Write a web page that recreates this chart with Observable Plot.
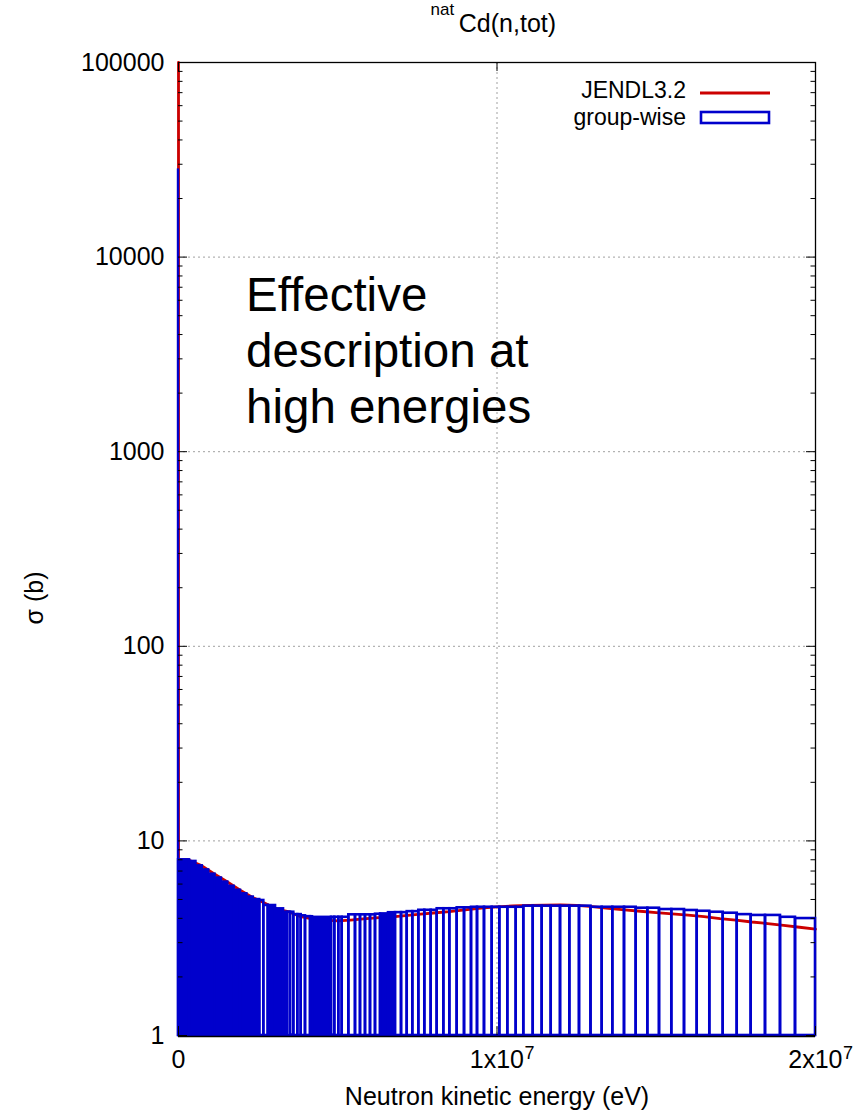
<!DOCTYPE html>
<html><head><meta charset="utf-8">
<script src="https://cdn.jsdelivr.net/npm/d3@7"></script>
<script src="https://cdn.jsdelivr.net/npm/@observablehq/plot@0.6"></script>
<style>
html,body{margin:0;padding:0;background:#fff;}
#wrap{position:relative;width:863px;height:1111px;overflow:hidden;}
#wrap svg{position:absolute;left:0;top:0;}
</style></head><body><div id="wrap"></div>
<script>
// ---------- data (energies in MeV, cross sections in barns) ----------
// group-wise boxes that are resolvable (null = part of a densely packed band)
const groupEdgesMeV = [2.553, 2.678, 2.816, 3.422, 3.516, 3.620, 3.746, 3.852, 3.987, 4.144,
  4.804, 4.907, 5.033, 5.140, 5.347, 5.557, 5.714, 5.871, 6.028, 6.185, 6.342,
  6.813, 7.002, 7.181, 7.356, 7.545, 7.733, 7.934, 8.122, 8.330, 8.518, 8.750, 8.980,
  9.199, 9.388, 9.607, 9.849, 10.088, 10.339, 10.603, 10.841, 11.137, 11.419, 11.702,
  11.994, 12.286, 12.590, 12.951, 13.303, 13.636, 14.003, 14.370, 14.735, 15.102,
  15.488, 15.887, 16.286, 16.681, 17.102, 17.542, 17.981, 18.430, 18.901, 19.372, 20.0];
const groupSigma = [4.94, 4.66, null, 4.30, 4.30, 4.18, 4.18, 4.12, 4.08, null,
  4.05, 4.05, 4.05, 4.05, 4.17, 4.17, 4.17, 4.17, 4.17, 4.20, null,
  4.28, 4.28, 4.33, 4.33, 4.40, 4.40, 4.40, 4.48, 4.48, 4.48, 4.53, 4.53,
  4.56, 4.56, 4.56, 4.56, 4.56, 4.56, 4.56, 4.62, 4.62, 4.62, 4.62, 4.62, 4.62, 4.62,
  4.56, 4.56, 4.56, 4.56, 4.51, 4.51, 4.44, 4.44, 4.39, 4.35, 4.30, 4.25, 4.18,
  4.14, 4.14, 4.05, 3.99];
// densely packed groups (drawn as solid bands)
const fineLoMeV = [0, 0.0001, 0.35, 0.55, 0.75, 0.95, 1.15, 1.35, 1.55, 1.75, 1.95, 2.15, 2.35,
  2.816, 3.05, 3.30, 4.144, 4.21, 6.342, 6.59];
const fineHiMeV = [0.0001, 0.35, 0.55, 0.75, 0.95, 1.15, 1.35, 1.55, 1.75, 1.95, 2.15, 2.35, 2.553,
  3.05, 3.30, 3.422, 4.21, 4.804, 6.59, 6.813];
const fineSigma = [28000, 8.0, 7.85, 7.45, 7.1, 6.75, 6.45, 6.15, 5.85, 5.58, 5.35, 5.15, 5.0,
  4.66, 4.48, 4.30, 4.08, 4.05, 4.22, 4.28];
// JENDL3.2 pointwise curve
const jendlMeV = [0, 0.0001, 0.3, 0.7, 1.1, 1.5, 1.95, 2.3, 2.7, 3.1, 3.45, 3.8, 4.2, 4.6, 5.0,
  5.4, 5.8, 6.3, 6.8, 7.2, 7.6, 8.0, 8.5, 9.0, 9.5, 10, 10.5, 11, 11.5, 12, 12.5, 13, 13.5,
  14, 14.5, 15, 15.5, 16, 16.5, 17, 17.5, 18, 18.5, 19, 19.5, 20];
const jendlSigma = [100000, 8.0, 8.0, 7.5, 6.8, 6.2, 5.56, 5.15, 4.8, 4.45, 4.33, 4.1, 3.98, 3.92, 3.88,
  3.92, 3.97, 4.03, 4.08, 4.14, 4.2, 4.26, 4.33, 4.42, 4.52, 4.58, 4.63, 4.66, 4.68, 4.69, 4.66, 4.6, 4.5,
  4.42, 4.35, 4.28, 4.22, 4.16, 4.08, 3.99, 3.92, 3.83, 3.76, 3.68, 3.6, 3.52];
const baseSigma = 1;
// ticks
const yTickValues = [1, 10, 100, 1000, 10000, 100000];
const yTickLabels = ["1", "10", "100", "1000", "10000", "100000"];
const xTickValues = [0, 1e7, 2e7];
const xTickBase = ["0", "1x10", "2x10"];
const xTickExp = ["", "7", "7"];
const gridY = [10, 100, 1000, 10000];
const gridX = [1e7];

// ---------- build ----------
const MeV = 1e6;
const FONT = "'Liberation Sans', Arial, Helvetica, sans-serif";
const BLUE = "#0000cc", RED = "#cc0000";
const W = 863, H = 1111, mL = 178, mR = 48, mT = 62, mB = 76;
const innerW = W - mL - mR, innerH = H - mT - mB;
const MAJ = 9, MIN = 4.5;

const groups = groupSigma.map((s, i) => ({x1: groupEdgesMeV[i] * MeV, x2: groupEdgesMeV[i + 1] * MeV, y1: baseSigma, y2: s}))
  .filter(d => d.y2 != null);
const fine = fineSigma.map((s, i) => ({x1: fineLoMeV[i] * MeV, x2: fineHiMeV[i] * MeV, y1: baseSigma, y2: s}));
const jendl = jendlMeV.map((e, i) => ({x: e * MeV, y: jendlSigma[i]}));
const yMinor = yTickValues.slice(0, -1).flatMap(d => [2, 3, 4, 5, 6, 7, 8, 9].map(k => k * d));
const xTicks = xTickValues.map((v, i) => ({v, base: xTickBase[i], exp: xTickExp[i]}));

const chart = Plot.plot({
  width: W, height: H,
  marginLeft: mL, marginRight: mR, marginTop: mT, marginBottom: mB,
  style: {fontFamily: FONT, fontSize: "25px", background: "transparent", color: "#000", overflow: "visible"},
  x: {domain: [0, 2e7], axis: null},
  y: {type: "log", domain: [1, 1e5], axis: null},
  marks: [
    Plot.ruleY(gridY, {y: d => d, stroke: "#a0a0a0", strokeWidth: 1, strokeDasharray: "2,3"}),
    Plot.ruleX(gridX, {x: d => d, stroke: "#a0a0a0", strokeWidth: 1, strokeDasharray: "2,3"}),
    Plot.frame({stroke: "#000", strokeWidth: 1.3}),
    Plot.line(jendl, {x: "x", y: "y", stroke: RED, strokeWidth: 2.8}),
    Plot.rect(fine, {x1: "x1", x2: "x2", y1: "y1", y2: "y2", fill: BLUE, stroke: BLUE, strokeWidth: 2.4}),
    Plot.rect(groups, {x1: "x1", x2: "x2", y1: "y1", y2: "y2", fill: "none", stroke: BLUE, strokeWidth: 2.6}),
    // bottom axis line over the boxes
    Plot.ruleY([baseSigma], {y: d => d, stroke: "#000", strokeWidth: 1.6, dy: 1}),
    // inward ticks, mirrored
    Plot.tickY(yTickValues, {y: d => d, insetRight: innerW - MAJ, stroke: "#000"}),
    Plot.tickY(yTickValues, {y: d => d, insetLeft: innerW - MAJ, stroke: "#000"}),
    Plot.tickY(yMinor, {y: d => d, insetRight: innerW - MIN, stroke: "#000"}),
    Plot.tickY(yMinor, {y: d => d, insetLeft: innerW - MIN, stroke: "#000"}),
    Plot.tickX(xTickValues, {x: d => d, insetTop: innerH - MAJ, stroke: "#000"}),
    Plot.tickX(xTickValues, {x: d => d, insetBottom: innerH - MAJ, stroke: "#000"}),
    // tick labels
    Plot.text(yTickValues, {y: d => d, text: (d, i) => yTickLabels[i], frameAnchor: "left", dx: -14, textAnchor: "end", fontSize: 25}),
    Plot.text(xTicks.filter(d => d.exp === ""), {x: "v", text: "base", frameAnchor: "bottom", dy: 32, textAnchor: "middle", fontSize: 25}),
    Plot.text(xTicks.filter(d => d.exp !== ""), {x: "v", text: "base", frameAnchor: "bottom", dy: 32, dx: 27, textAnchor: "end", fontSize: 25}),
    Plot.text(xTicks.filter(d => d.exp !== ""), {x: "v", text: "exp", frameAnchor: "bottom", dy: 23, dx: 27.5, textAnchor: "start", fontSize: 18})
  ]
});
const wrap = document.getElementById("wrap");
wrap.appendChild(chart);

// ---------- overlay texts: title, labels, legend, annotation ----------
const ov = d3.create("svg").attr("width", W).attr("height", H)
  .style("font-family", FONT).style("pointer-events", "none");
ov.append("text").attr("x", 430.5).attr("y", 15).attr("font-size", 17).text("nat");
ov.append("text").attr("x", 458.8).attr("y", 32).attr("font-size", 25).text("Cd(n,tot)");
ov.append("text").attr("x", 497).attr("y", 1105).attr("font-size", 25).attr("text-anchor", "middle")
  .text("Neutron kinetic energy (eV)");
ov.append("text").attr("transform", "translate(43,598) rotate(-90)").attr("font-size", 25)
  .attr("text-anchor", "middle").text("σ (b)");
// legend
ov.append("text").attr("x", 686).attr("y", 98).attr("font-size", 23).attr("text-anchor", "end").text("JENDL3.2");
ov.append("line").attr("x1", 700).attr("x2", 770).attr("y1", 93).attr("y2", 93).attr("stroke", RED).attr("stroke-width", 3);
ov.append("text").attr("x", 686).attr("y", 125).attr("font-size", 23).attr("text-anchor", "end").text("group-wise");
ov.append("rect").attr("x", 701).attr("y", 112).attr("width", 68).attr("height", 11)
  .attr("fill", "none").attr("stroke", BLUE).attr("stroke-width", 2.6);
// annotation
const ann = ["Effective", "description at", "high energies"];
ann.forEach((t, i) => ov.append("text").attr("x", 246).attr("y", 311 + i * 56).attr("font-size", 47.5).text(t));
wrap.appendChild(ov.node());
</script>
</body></html>
